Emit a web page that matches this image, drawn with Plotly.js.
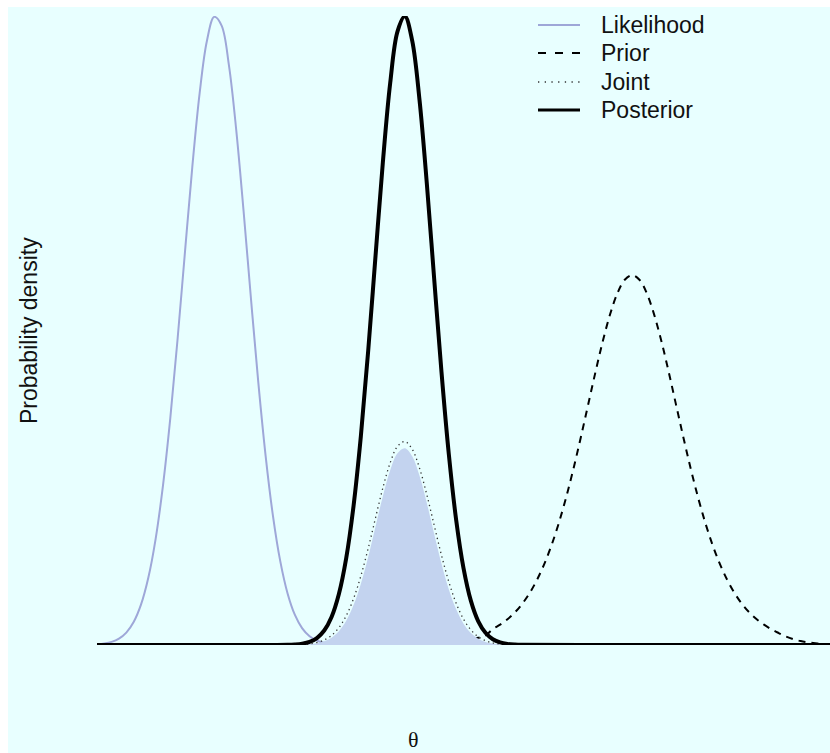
<!DOCTYPE html>
<html>
<head>
<meta charset="utf-8">
<script src="https://cdn.plot.ly/plotly-3.0.1.min.js"></script>
<style>html,body{margin:0;padding:0;background:#fff;}#chart{width:830px;height:753px;}</style>
</head>
<body>
<div id="chart"></div>
<script>
// ---- data (theta in plot units, density scaled so likelihood peak = 1) ----
const seriesNames = ['Likelihood', 'Prior', 'Joint', 'Posterior'];
const xTitle = 'θ';
const yTitle = 'Probability density';

const thetaLik = [0,0.1,0.2,0.3,0.4,0.5,0.6,0.7,0.8,0.9,1.0,1.1,1.2,1.3,1.4,1.5,1.6,1.7,1.8,1.9,2.0,2.1,2.2,2.3,2.4,2.5,2.6,2.7,2.8,2.9,3.0,3.1,3.2,3.3,3.4];
const likelihood = [0.001,0.0023,0.0049,0.0101,0.0197,0.0365,0.0641,0.1068,0.1688,0.2534,0.3606,0.4873,0.6246,0.7598,0.8771,0.9608,0.9986,0.9848,0.9216,0.8183,0.6896,0.5513,0.4183,0.3012,0.2058,0.1333,0.082,0.0478,0.0265,0.0139,0.0069,0.0033,0.0015,0.0006,0];

const thetaPrior = [4.6,4.7,4.8,4.9,5.0,5.1,5.2,5.3,5.4,5.5,5.6,5.7,5.8,5.9,6.0,6.1,6.2,6.3,6.4,6.5,6.6,6.7,6.8,6.9,7.0,7.1,7.2,7.3,7.4,7.5,7.6,7.7,7.8,7.9,8.0,8.1,8.2,8.3,8.4,8.5,8.6,8.7,8.8,8.9,9.0,9.1,9.2,9.3,9.4,9.5,9.6,9.7,9.8,9.9,10.0];
const prior = [0.0013,0.002,0.003,0.0044,0.0062,0.0085,0.0115,0.0150,0.0254,0.0323,0.0409,0.0517,0.0653,0.0822,0.1030,0.1282,0.1584,0.1938,0.2346,0.2802,0.3299,0.3818,0.4338,0.4829,0.5257,0.5593,0.5807,0.588,0.5807,0.5593,0.5257,0.4829,0.4338,0.3818,0.3299,0.2802,0.2346,0.1938,0.1584,0.1282,0.1030,0.0822,0.0653,0.0517,0.0409,0.0323,0.0250,0.0190,0.0135,0.0092,0.0062,0.0042,0.0028,0.0018,0.0011];

const thetaJoint = [2.6,2.7,2.8,2.9,3.0,3.1,3.2,3.3,3.4,3.5,3.6,3.7,3.8,3.9,4.0,4.1,4.2,4.3,4.4,4.5,4.6,4.7,4.8,4.9,5.0,5.1,5.2,5.3,5.4,5.5,5.6,5.7,5.8];
const joint = [0,0.0003,0.0008,0.0018,0.0039,0.008,0.0153,0.0275,0.0465,0.0737,0.1099,0.1538,0.2022,0.2498,0.2897,0.3159,0.3235,0.3112,0.2812,0.2387,0.1904,0.1426,0.1004,0.0664,0.0412,0.0241,0.0132,0.0068,0.0033,0.0015,0.0006,0.0003,0];

const thetaShade = [2.7,2.8,2.9,3.0,3.1,3.2,3.3,3.4,3.5,3.6,3.7,3.8,3.9,4.0,4.1,4.2,4.3,4.4,4.5,4.6,4.7,4.8,4.9,5.0,5.1,5.2,5.3,5.4,5.5,5.6,5.7];
const jointShade = [0,0.0005,0.0012,0.0027,0.0058,0.0116,0.0219,0.0385,0.0634,0.0975,0.1401,0.1883,0.2366,0.2778,0.3049,0.3128,0.3000,0.2689,0.2255,0.1766,0.1293,0.0884,0.0567,0.0339,0.0189,0.0099,0.0048,0.0022,0.0009,0.0004,0];

const thetaPost = [0,1,2,2.6,2.7,2.8,2.9,3.0,3.1,3.2,3.3,3.4,3.5,3.6,3.7,3.8,3.9,4.0,4.1,4.2,4.3,4.4,4.5,4.6,4.7,4.8,4.9,5.0,5.1,5.2,5.3,5.4,5.5,5.6,5.7,5.8,7,8.5,10];
const posterior = [0,0,0,0.0003,0.0009,0.0022,0.005,0.0111,0.023,0.0445,0.081,0.1381,0.2211,0.3322,0.4681,0.6188,0.7677,0.8934,0.9756,0.9995,0.9608,0.8665,0.7332,0.5821,0.4336,0.303,0.1987,0.1222,0.0705,0.0381,0.0194,0.0092,0.0041,0.0017,0.0007,0.0003,0,0,0];

// ---- styles ----
const BG = '#E8FFFF';
const LIK_COL = '#9EA7D8';
const SHADE_COL = '#C3D3EF';
const FONT = 'Liberation Sans, Arial, Helvetica, sans-serif';

const traces = [
  {x: thetaPrior, y: prior, name: seriesNames[1], type: 'scatter', mode: 'lines',
   line: {color: '#000', width: 2, dash: '7px,6px', shape: 'spline'}, cliponaxis: false, hoverinfo: 'skip'},
  {x: thetaLik, y: likelihood, name: seriesNames[0], type: 'scatter', mode: 'lines',
   line: {color: LIK_COL, width: 2, shape: 'spline'}, cliponaxis: false, hoverinfo: 'skip'},
  {x: thetaShade, y: jointShade, name: 'shade', type: 'scatter', mode: 'lines', fill: 'tozeroy',
   fillcolor: SHADE_COL, line: {color: SHADE_COL, width: 0, shape: 'spline'}, cliponaxis: false, hoverinfo: 'skip'},
  {x: thetaJoint, y: joint, name: seriesNames[2], type: 'scatter', mode: 'lines',
   line: {color: '#333', width: 1.3, dash: '1.3px,3.5px', shape: 'spline'}, cliponaxis: false, hoverinfo: 'skip'},
  {x: thetaPost, y: posterior, name: seriesNames[3], type: 'scatter', mode: 'lines',
   line: {color: '#000', width: 4, shape: 'spline'}, cliponaxis: false, hoverinfo: 'skip'}
];

// pixel helpers for paper coordinates (plot area: x 97..830, y 16..645)
const L = 97, R = 830, T = 16, B = 645;
const px = v => (v - L) / (R - L);
const py = v => (B - v) / (B - T);

const legendRows = [25, 53, 82, 110];
const legendStyles = [
  {color: LIK_COL, width: 2, dash: 'solid'},
  {color: '#000', width: 2, dash: '8px,9px'},
  {color: '#333', width: 1.3, dash: '1.3px,5.4px'},
  {color: '#000', width: 3, dash: 'solid'}
];

const shapes = [
  {type: 'rect', xref: 'paper', yref: 'paper', x0: px(0), x1: px(830), y0: py(0), y1: py(7), fillcolor: '#fff', line: {width: 0}, layer: 'above'},
  {type: 'rect', xref: 'paper', yref: 'paper', x0: px(0), x1: px(8), y0: py(0), y1: py(753), fillcolor: '#fff', line: {width: 0}, layer: 'above'}
];
const annotations = [
  {text: yTitle, xref: 'paper', yref: 'paper', x: px(29), y: py(331), textangle: -90, showarrow: false,
   xanchor: 'center', yanchor: 'middle', font: {family: FONT, size: 23, color: '#111'}},
  {text: xTitle, xref: 'paper', yref: 'paper', x: px(413), y: py(739), showarrow: false,
   xanchor: 'center', yanchor: 'middle', font: {family: 'Liberation Serif, Times New Roman, serif', size: 22, color: '#111'}}
];
seriesNames.forEach((nm, i) => {
  const st = legendStyles[i];
  shapes.push({type: 'line', xref: 'paper', yref: 'paper', x0: px(538), x1: px(580), y0: py(legendRows[i]), y1: py(legendRows[i]),
    line: {color: st.color, width: st.width, dash: st.dash}, layer: 'above'});
  annotations.push({text: nm, xref: 'paper', yref: 'paper', x: px(599), y: py(legendRows[i]), showarrow: false,
    xanchor: 'left', yanchor: 'middle', font: {family: FONT, size: 23, color: '#111'}});
});

const layout = {
  width: 830, height: 753,
  margin: {l: L, r: 830 - R, t: T, b: 753 - B, pad: 0},
  paper_bgcolor: BG, plot_bgcolor: BG,
  showlegend: false,
  xaxis: {range: [0, 10], visible: false, fixedrange: true},
  yaxis: {range: [0, 1], visible: false, fixedrange: true},
  shapes: shapes,
  annotations: annotations
};

Plotly.newPlot('chart', traces, layout, {displayModeBar: false, staticPlot: true});
</script>
</body>
</html>
